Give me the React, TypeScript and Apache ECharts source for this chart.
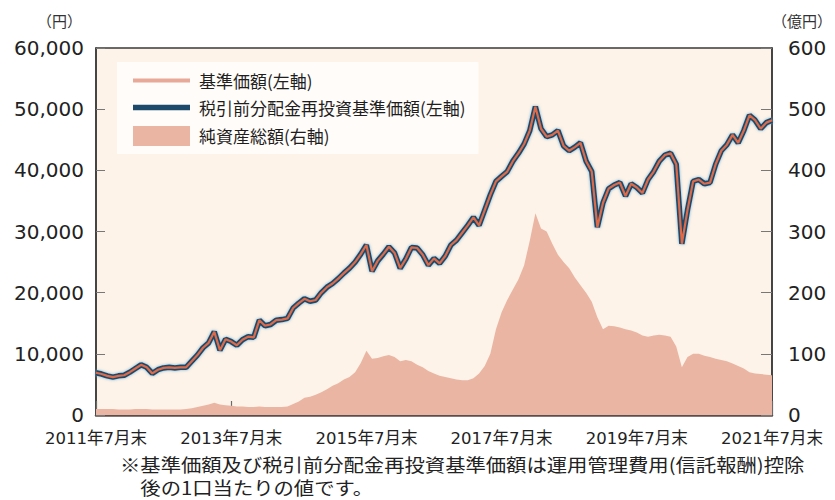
import React, { useEffect, useRef } from "react";
import * as echarts from "echarts";

// Monthly month-end observations, 2011年7月末 .. 2021年7月末 (121 points)
const startYear = 2011;
const startMonth = 7;
const monthCount = 121;

const categories: string[] = [];
for (let i = 0; i < monthCount; i++) {
  const t = startMonth - 1 + i;
  const y = startYear + Math.floor(t / 12);
  const m = (t % 12) + 1;
  categories.push(`${y}年${m}月末`);
}

// 基準価額 (円, left axis)
const navValues = [
  6900, 6700, 6400, 6200, 6400, 6500, 7000, 7600, 8200, 7800, 6800, 7400,
  7700, 7800, 7700, 7800, 7800, 8800, 9800, 11000, 11800, 13600, 10600, 12400,
  12000, 11400, 12300, 12800, 12700, 15500, 14600, 14800, 15500, 15600, 15800, 17500,
  18300, 19000, 18600, 18800, 20000, 20900, 21500, 22300, 23200, 24000, 25000, 26300,
  27800, 23500, 25200, 26300, 27500, 26500, 24000, 25500, 27400, 27300, 26200, 24500,
  25600, 24800, 26000, 27800, 28600, 29800, 31000, 32300, 31000, 33500, 36000, 38200,
  39000, 39800, 41500, 42800, 44300, 46500, 50400, 46800, 45500, 45800, 46500, 44000,
  43200, 43800, 44500, 41500, 39800, 30700, 34700, 37000, 37600, 38000, 35800, 37800,
  37200, 36300, 38500, 39800, 41500, 42500, 42800, 41000, 28000, 33500, 38200, 38500,
  37800, 38000, 41000, 43200, 44200, 45800, 44500, 46500, 49000, 48200, 46800, 47800,
  48200,
];

// 税引前分配金再投資基準価額 (円, left axis) — overlaps the NAV line in the chart
const reinvestedValues = [
  6900, 6700, 6400, 6200, 6400, 6500, 7000, 7600, 8200, 7800, 6800, 7400,
  7700, 7800, 7700, 7800, 7800, 8800, 9800, 11000, 11800, 13600, 10600, 12400,
  12000, 11400, 12300, 12800, 12700, 15500, 14600, 14800, 15500, 15600, 15800, 17500,
  18300, 19000, 18600, 18800, 20000, 20900, 21500, 22300, 23200, 24000, 25000, 26300,
  27800, 23500, 25200, 26300, 27500, 26500, 24000, 25500, 27400, 27300, 26200, 24500,
  25600, 24800, 26000, 27800, 28600, 29800, 31000, 32300, 31000, 33500, 36000, 38200,
  39000, 39800, 41500, 42800, 44300, 46500, 50400, 46800, 45500, 45800, 46500, 44000,
  43200, 43800, 44500, 41500, 39800, 30700, 34700, 37000, 37600, 38000, 35800, 37800,
  37200, 36300, 38500, 39800, 41500, 42500, 42800, 41000, 28000, 33500, 38200, 38500,
  37800, 38000, 41000, 43200, 44200, 45800, 44500, 46500, 49000, 48200, 46800, 47800,
  48200,
];

// 純資産総額 (億円, right axis)
const netAssets = [
  10, 10, 10, 10, 9, 9, 9, 10, 10, 10, 9, 9,
  9, 9, 9, 9, 10, 11, 13, 15, 17, 20, 17, 16,
  15, 14, 14, 13, 13, 14, 13, 13, 13, 13, 14, 18,
  22, 28, 30, 33, 37, 42, 48, 52, 58, 62, 70, 85,
  105, 92, 93, 96, 98, 95, 88, 90, 88, 82, 78, 72,
  68, 64, 62, 60, 58, 57, 57, 60, 68, 80, 100, 140,
  168, 188, 205, 222, 245, 285, 330, 305, 300, 280, 262, 250,
  240, 225, 212, 200, 185, 160, 140, 146, 145, 143, 140, 138,
  135, 130, 128, 130, 131, 130, 128, 112, 78, 95, 100, 100,
  97, 95, 92, 90, 88, 84, 80, 76, 70, 68, 67, 66,
  65,
];

const leftTicks = { min: 0, max: 60000, interval: 10000 };
const rightTicks = { min: 0, max: 600, interval: 100 };

const seriesNames = ["基準価額(左軸)", "税引前分配金再投資基準価額(左軸)", "純資産総額(右軸)"];
const unitLeft = "（円）";
const unitRight = "（億円）";
const footnoteLines = [
  "※基準価額及び税引前分配金再投資基準価額は運用管理費用(信託報酬)控除",
  "　後の1口当たりの値です。",
];

const JP = '"Noto Sans CJK JP", "DejaVu Sans", sans-serif';
const NUM = '"DejaVu Sans", "Noto Sans CJK JP", sans-serif';

export default function App() {
  const ref = useRef<HTMLDivElement>(null);

  useEffect(() => {
    if (!ref.current) return;
    const chart = echarts.init(ref.current, undefined, { renderer: "svg" });
    chart.setOption({
      animation: false,
      backgroundColor: "#ffffff",
      grid: {
        left: 96,
        right: 53,
        top: 48,
        bottom: 85,
        show: true,
        backgroundColor: "#fdf3e8",
        borderColor: "#3a3a3a",
        borderWidth: 1.5,
        containLabel: false,
      },
      legend: {
        left: 117,
        top: 62,
        orient: "vertical",
        padding: [10, 13, 8, 16],
        backgroundColor: "#fffcf9",
        itemWidth: 57,
        itemHeight: 20,
        itemGap: 10,
        selectedMode: false,
        textStyle: {
          fontFamily: JP,
          fontSize: 17,
          color: "#1e1e1e",
          padding: [0, 0, 0, 4],
        },
        data: [
          {
            name: seriesNames[0],
            icon: "path://M0,0H57V4H0Z",
            itemStyle: { color: "#e8a999", borderWidth: 0 },
          },
          {
            name: seriesNames[1],
            icon: "path://M0,0H57V5.5H0Z",
            itemStyle: { color: "#1d4a6a", borderWidth: 0 },
          },
          {
            name: seriesNames[2],
            icon: "rect",
            itemStyle: { color: "#eab5a3", borderWidth: 0 },
          },
        ],
      },
      xAxis: {
        type: "category",
        data: categories,
        boundaryGap: false,
        axisLine: { show: true, lineStyle: { color: "#5b4d4b", width: 2.5 } },
        axisTick: {
          show: true,
          inside: true,
          interval: 23,
          length: 14,
          lineStyle: { color: "#6a6a6a", width: 1.2 },
        },
        axisLabel: {
          interval: 23,
          margin: 15,
          fontFamily: NUM,
          fontSize: 16.5,
          color: "#222",
          showMaxLabel: true,
          showMinLabel: true,
        },
        splitLine: { show: false },
      },
      yAxis: [
        {
          type: "value",
          min: leftTicks.min,
          max: leftTicks.max,
          interval: leftTicks.interval,
          position: "left",
          name: unitLeft,
          nameLocation: "end",
          nameGap: 20,
          nameTextStyle: {
            fontFamily: JP,
            fontSize: 15,
            color: "#333",
            align: "right",
            padding: [0, 14, 0, 0],
          },
          axisLine: { show: true, lineStyle: { color: "#3a3a3a", width: 1.5 } },
          axisTick: { show: true, inside: true, length: 9, lineStyle: { color: "#777" } },
          axisLabel: {
            margin: 12,
            fontFamily: NUM,
            fontSize: 20,
            color: "#222",
            formatter: (v: number) => v.toLocaleString("en-US"),
          },
          splitLine: { show: false },
        },
        {
          type: "value",
          min: rightTicks.min,
          max: rightTicks.max,
          interval: rightTicks.interval,
          position: "right",
          name: unitRight,
          nameLocation: "end",
          nameGap: 20,
          nameTextStyle: {
            fontFamily: JP,
            fontSize: 15,
            color: "#333",
            align: "left",
            padding: [0, 0, 0, 0],
          },
          axisLine: { show: true, lineStyle: { color: "#3a3a3a", width: 1.5 } },
          axisTick: { show: true, inside: true, length: 11, lineStyle: { color: "#777" } },
          axisLabel: {
            margin: 16,
            fontFamily: NUM,
            fontSize: 20,
            color: "#222",
          },
          splitLine: { show: false },
        },
      ],
      series: [
        {
          name: seriesNames[2],
          type: "line",
          yAxisIndex: 1,
          data: netAssets,
          symbol: "none",
          lineStyle: { width: 0 },
          itemStyle: { color: "#eab5a3" },
          areaStyle: { color: "#eab5a3", opacity: 1 },
          z: 1,
        },
        {
          name: seriesNames[1],
          type: "line",
          yAxisIndex: 0,
          data: reinvestedValues,
          symbol: "none",
          itemStyle: { color: "#1d4a6a" },
          lineStyle: {
            color: "#1d4a6a",
            width: 5.5,
            shadowColor: "rgba(110,170,210,0.9)",
            shadowBlur: 3,
          },
          z: 3,
        },
        {
          name: seriesNames[0],
          type: "line",
          yAxisIndex: 0,
          data: navValues,
          symbol: "none",
          itemStyle: { color: "#e8a999" },
          lineStyle: { color: "#dd6a48", width: 2.2 },
          z: 4,
        },
      ],
      graphic: [
        {
          type: "text",
          x: 120,
          y: 452,
          scaleX: 1.13,
          style: {
            text: footnoteLines.join("\n"),
            fontFamily: JP,
            fontSize: 18,
            lineHeight: 24,
            fill: "#222",
          },
        },
      ],
    });
    return () => chart.dispose();
  }, []);

  return (
    <div
      ref={ref}
      style={{ position: "absolute", left: 0, top: 0, width: 835, height: 500 }}
    />
  );
}
